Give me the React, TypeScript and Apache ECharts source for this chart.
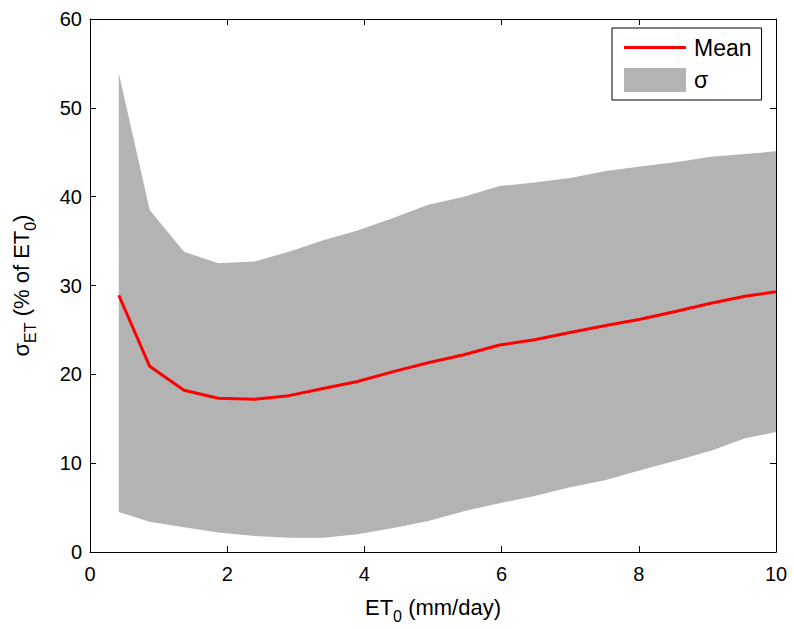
import React, { useEffect, useRef } from "react";
import * as echarts from "echarts";

const xVals = [0.42, 0.87, 1.37, 1.87, 2.4, 2.9, 3.4, 3.9, 4.42, 4.93, 5.45, 5.97, 6.48, 7.0, 7.52, 8.02, 8.55, 9.05, 9.55, 10.0];
const meanVals = [28.9, 20.9, 18.2, 17.3, 17.2, 17.6, 18.4, 19.2, 20.3, 21.3, 22.2, 23.3, 23.9, 24.7, 25.5, 26.2, 27.1, 28.0, 28.8, 29.3];
const upperVals = [53.9, 38.5, 33.8, 32.5, 32.7, 33.8, 35.1, 36.2, 37.6, 39.1, 40.0, 41.2, 41.6, 42.1, 42.9, 43.4, 43.9, 44.5, 44.8, 45.1];
const lowerVals = [4.5, 3.4, 2.8, 2.2, 1.8, 1.6, 1.6, 2.0, 2.7, 3.5, 4.6, 5.5, 6.3, 7.3, 8.1, 9.2, 10.3, 11.4, 12.8, 13.5];

const FONT = "'Liberation Sans', Arial, Helvetica, sans-serif";

export default function App() {
  const ref = useRef<HTMLDivElement>(null);
  useEffect(() => {
    if (!ref.current) return;
    const chart = echarts.init(ref.current, undefined, { renderer: "svg" });
    const axisCommon = {
      axisLine: { show: true, onZero: false, lineStyle: { color: "#000", width: 1 } },
      axisTick: { show: true, inside: true, length: 6, lineStyle: { color: "#000" } },
      splitLine: { show: false },
    };
    const rich = {
      b: { fontSize: 22, fontFamily: FONT, color: "#000", lineHeight: 34, verticalAlign: "middle" },
      s: { fontSize: 16, fontFamily: FONT, color: "#000", lineHeight: 34, verticalAlign: "bottom" },
    };
    chart.setOption({
      animation: false,
      backgroundColor: "#fff",
      grid: { left: 90, right: 18, top: 19, bottom: 75, containLabel: false },
      legend: {
        orient: "vertical",
        left: 612,
        top: 28,
        padding: [8, 10, 8, 12],
        itemGap: 9,
        itemWidth: 62,
        itemHeight: 24,
        borderColor: "#000",
        borderWidth: 1,
        backgroundColor: "#fff",
        textStyle: { fontSize: 23, fontFamily: FONT, color: "#000", padding: [0, 0, 0, 3] },
        data: [
          { name: "Mean", icon: "path://M0,0h60v3h-60z" },
          { name: "σ", icon: "rect" },
        ],
      },
      xAxis: [
        {
          type: "value",
          min: 0,
          max: 10,
          interval: 2,
          position: "bottom",
          ...axisCommon,
          axisLabel: { fontSize: 20, fontFamily: FONT, color: "#000", margin: 12 },
          name: "{b|ET}{s|0}{b| (mm/day)}",
          nameLocation: "middle",
          nameGap: 38,
          nameTextStyle: { rich },
        },
        {
          type: "value",
          min: 0,
          max: 10,
          interval: 2,
          position: "top",
          ...axisCommon,
          axisLabel: { show: false },
        },
      ],
      yAxis: [
        {
          type: "value",
          min: 0,
          max: 60,
          interval: 10,
          position: "left",
          ...axisCommon,
          axisLabel: { fontSize: 20, fontFamily: FONT, color: "#000", margin: 8 },
          name: "{b|σ}{s|ET}{b| (% of ET}{s|0}{b|)}",
          nameLocation: "middle",
          nameRotate: 90,
          nameGap: 52,
          nameTextStyle: { rich },
        },
        {
          type: "value",
          min: 0,
          max: 60,
          interval: 10,
          position: "right",
          ...axisCommon,
          axisLabel: { show: false },
        },
      ],
      series: [
        {
          name: "σ",
          type: "custom",
          xAxisIndex: 0,
          yAxisIndex: 0,
          itemStyle: { color: "#b3b3b3" },
          data: [[xVals[0], lowerVals[0]]],
          renderItem: (params: any, api: any) => {
            const pts: number[][] = [];
            for (let i = 0; i < xVals.length; i++) pts.push(api.coord([xVals[i], upperVals[i]]));
            for (let i = xVals.length - 1; i >= 0; i--) pts.push(api.coord([xVals[i], lowerVals[i]]));
            return { type: "polygon", shape: { points: pts }, style: { fill: "#b3b3b3" } };
          },
          z: 1,
        },
        {
          name: "Mean",
          type: "line",
          xAxisIndex: 0,
          yAxisIndex: 0,
          data: xVals.map((x, i) => [x, meanVals[i]]),
          showSymbol: false,
          symbol: "none",
          lineStyle: { color: "#ff0000", width: 3 },
          itemStyle: { color: "#ff0000" },
          z: 3,
        },
      ],
    });
    return () => chart.dispose();
  }, []);
  return <div ref={ref} style={{ width: 794, height: 629, position: "absolute", left: 0, top: 0 }} />;
}
